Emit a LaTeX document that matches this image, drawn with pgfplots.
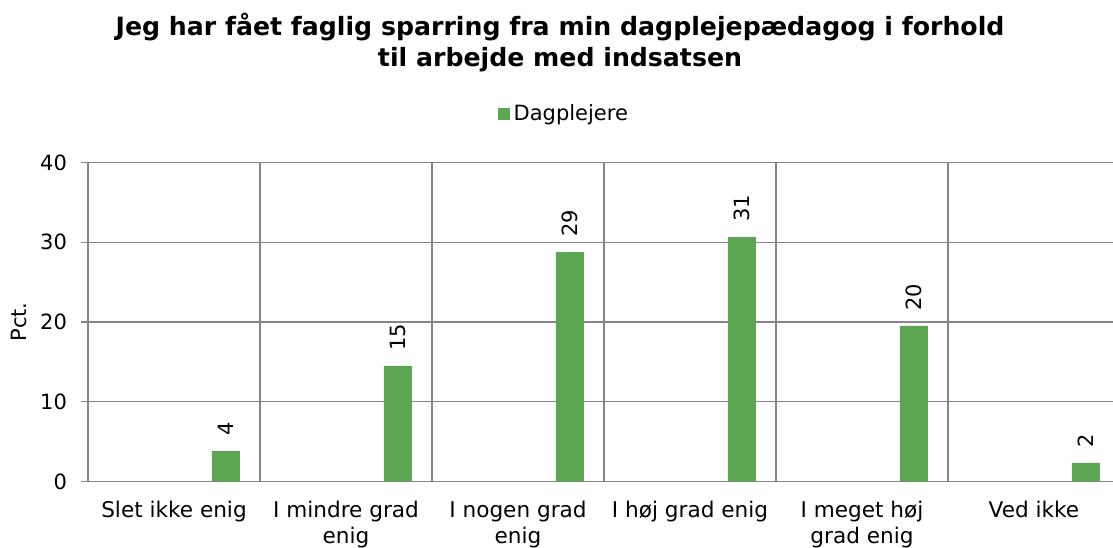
\documentclass[border=0pt]{standalone}
\usepackage{pgfplots}
\pgfplotsset{compat=1.18}
\usepackage{fontspec}
\setmainfont{DejaVu Sans}
\definecolor{barg}{RGB}{92,165,82}
\definecolor{gridg}{RGB}{134,134,134}
\begin{document}
\begin{tikzpicture}
\begin{axis}[
  name=ax,
  scale only axis,
  width=516pt, height=159.5pt,
  xmin=-0.5, xmax=5.5,
  ymin=0, ymax=40,
  ybar, bar width=14pt, bar shift=26pt,
  ytick={0,10,20,30,40},
  xtick={0,1,2,3,4,5},
  xticklabels={Slet ikke enig, I mindre grad\\enig, I nogen grad\\enig, I høj grad enig, I meget høj\\grad enig, Ved ikke},
  xticklabel style={align=center, font=\fontsize{10.8}{13}\selectfont, yshift=-3pt},
  yticklabel style={font=\fontsize{10.5}{13}\selectfont, xshift=-3.5pt},
  /pgf/number format/assume math mode=true,
  minor xtick={0.5,1.5,2.5,3.5,4.5,5.5},
  xminorgrids=true, ymajorgrids=true,
  grid style={gridg, line width=0.6pt},
  minor grid style={gridg, line width=0.6pt},
  axis x line*=bottom, axis y line*=left,
  axis line style={gridg, line width=0.6pt},
  tick align=outside,
  major tick length=3.5pt, minor tick length=0pt,
  xtick style={draw=none},
  ytick style={gridg, line width=0.6pt},
  ylabel={Pct.},
  ylabel style={font=\fontsize{10.5}{13}\selectfont, at={(axis description cs:-0.0664,0.5)}, anchor=center},
  legend style={draw=none, at={(axis description cs:0.462,1.152)}, anchor=center, font=\fontsize{10.5}{13}\selectfont, inner sep=0pt},
  legend image code/.code={\fill[barg] (0pt,-3pt) rectangle (6pt,3pt);},
  clip=false,
]
\addplot[fill=barg, draw=none,
  point meta=explicit symbolic,
  nodes near coords,
  nodes near coords style={rotate=90, anchor=west, inner xsep=7.5pt, inner ysep=0pt, font=\fontsize{10.5}{13}\selectfont, text=black}]
  coordinates {(0,3.85)[4] (1,14.5)[15] (2,28.75)[29] (3,30.65)[31] (4,19.5)[20] (5,2.35)[2]};
\addlegendentry{Dagplejere}
\node[anchor=base, font=\fontsize{12.6}{14}\selectfont\bfseries] at (axis description cs:0.4574,1.3997) {Jeg har fået faglig sparring fra min dagplejepædagog i forhold};
\node[anchor=base, font=\fontsize{12.6}{14}\selectfont\bfseries] at (axis description cs:0.4574,1.3025) {til arbejde med indsatsen};
\end{axis}
\pgfresetboundingbox
\path[use as bounding box] (ax.south west) ++(-44pt,-32.75pt) rectangle ++(556.5pt,273.5pt);
\end{tikzpicture}
\end{document}
